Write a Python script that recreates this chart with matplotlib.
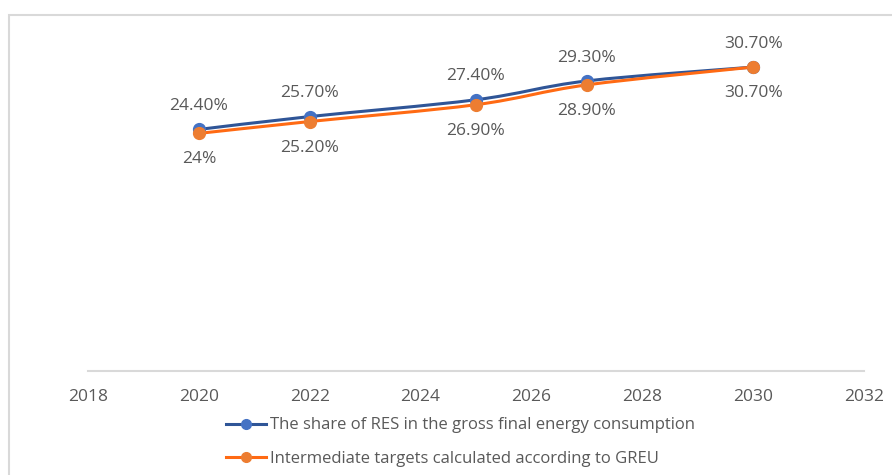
import matplotlib
matplotlib.use("Agg")
import matplotlib.pyplot as plt
from matplotlib.path import Path
from matplotlib.patches import PathPatch, Rectangle
from matplotlib.lines import Line2D

# data
years_res = [2020, 2022, 2025, 2027, 2030]
share_res = [24.4, 25.7, 27.4, 29.3, 30.7]
years_target = [2020, 2022, 2025, 2027, 2030]
share_target = [24.0, 25.2, 26.9, 28.9, 30.7]
res_labels = ["24.40%", "25.70%", "27.40%", "29.30%", "30.70%"]
target_labels = ["24%", "25.20%", "26.90%", "28.90%", "30.70%"]
x_ticks = [2018, 2020, 2022, 2024, 2026, 2028, 2030, 2032]
legend_names = ["The share of RES in the gross final energy consumption",
                "Intermediate targets calculated according to GREU"]

plt.rcParams['font.family'] = ['Open Sans', 'DejaVu Sans']
grey = '#595959'
blue_line, blue_mark = '#2f5597', '#4472c4'
orange_line, orange_mark = '#ff6a13', '#ed7d31'

W, H = 892, 475
fig = plt.figure(figsize=(W / 100, H / 100), dpi=100)
ax = fig.add_axes([88 / W, 1 - 371 / H, (864 - 88) / W, (371 - 24.5) / H])


def smooth_path(xs, ys):
    # Excel-like smoothed line: cubic bezier segments through the points
    verts = [(xs[0], ys[0])]
    codes = [Path.MOVETO]
    n = len(xs)
    for i in range(n - 1):
        x0, y0 = (xs[i - 1], ys[i - 1]) if i > 0 else (xs[i], ys[i])
        x3, y3 = (xs[i + 2], ys[i + 2]) if i + 2 < n else (xs[i + 1], ys[i + 1])
        c1 = (xs[i] + (xs[i + 1] - x0) / 6, ys[i] + (ys[i + 1] - y0) / 6)
        c2 = (xs[i + 1] - (x3 - xs[i]) / 6, ys[i + 1] - (y3 - ys[i]) / 6)
        verts += [c1, c2, (xs[i + 1], ys[i + 1])]
        codes += [Path.CURVE4] * 3
    return Path(verts, codes)


ax.add_patch(PathPatch(smooth_path(years_res, share_res), fill=False,
                       edgecolor=blue_line, lw=2.2, capstyle='round', zorder=2))
ax.plot(years_res, share_res, 'o', ms=8.5, color=blue_mark, zorder=3)
ax.add_patch(PathPatch(smooth_path(years_target, share_target), fill=False,
                       edgecolor=orange_line, lw=2.2, capstyle='round', zorder=4))
ax.plot(years_target, share_target, 'o', ms=8.5, color=orange_mark, zorder=5)

for x, y, s in zip(years_res, share_res, res_labels):
    ax.annotate(s, (x, y), xytext=(0, 11), textcoords='offset points',
                ha='center', va='bottom', fontsize=12.5, color=grey)
for x, y, s in zip(years_target, share_target, target_labels):
    ax.annotate(s, (x, y), xytext=(0, -13), textcoords='offset points',
                ha='center', va='top', fontsize=12.5, color=grey)

ax.set_xlim(2018, 2032)
ax.set_ylim(0, 35)
ax.set_xticks(x_ticks)
ax.tick_params(axis='x', length=0, pad=13, labelsize=12.5, labelcolor=grey)
ax.set_yticks([])
for side in ['left', 'right', 'top']:
    ax.spines[side].set_visible(False)
ax.spines['bottom'].set_color('#d9d9d9')
ax.spines['bottom'].set_linewidth(1.5)

handles = [Line2D([], [], color=blue_line, lw=2.2, marker='o', ms=7,
                  markerfacecolor=blue_mark, markeredgecolor=blue_mark),
           Line2D([], [], color=orange_line, lw=2.2, marker='o', ms=7,
                  markerfacecolor=orange_mark, markeredgecolor=orange_mark)]
fig.legend(handles, legend_names, loc='upper left', bbox_to_anchor=(218 / W, 1 - 409 / H),
           frameon=False, fontsize=12, labelcolor=grey, handlelength=2.4,
           handletextpad=0.2, labelspacing=1.05, borderpad=0)

# chart area border (cut off at right and bottom)
fig.add_artist(Rectangle((8.5 / W, -0.1), 1.2, 1.1 - 14.5 / H, transform=fig.transFigure,
                         fill=False, edgecolor='#d9d9d9', lw=1.5, clip_on=False))

fig.savefig('out.png', dpi=100)
